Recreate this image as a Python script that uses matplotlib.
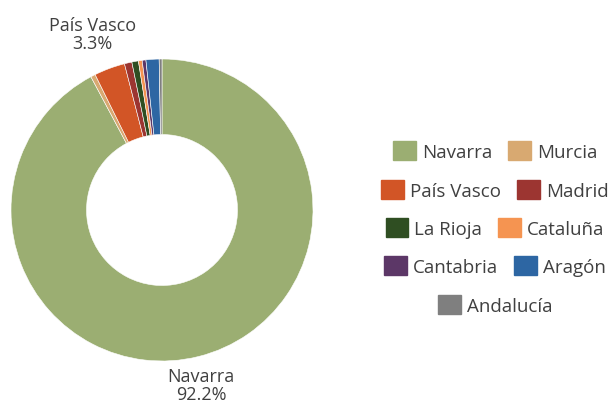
import matplotlib
matplotlib.use("Agg")
import matplotlib.pyplot as plt
from matplotlib.patches import Patch
import numpy as np

plt.rcParams['font.family'] = ['Open Sans', 'DejaVu Sans']

regions = ["Navarra", "Murcia", "País Vasco", "Madrid", "La Rioja",
           "Cataluña", "Cantabria", "Aragón", "Andalucía"]
shares = [92.2, 0.5, 3.3, 0.8, 0.7, 0.4, 0.4, 1.4, 0.3]
colors = ["#9BAE72", "#D8A971", "#D25526", "#9C3531", "#2F4E22",
          "#F59451", "#5C3767", "#2D66A3", "#7F7F7F"]
labelled = ["Navarra", "País Vasco"]
legend_rows = [["Navarra", "Murcia"], ["País Vasco", "Madrid"],
               ["La Rioja", "Cataluña"], ["Cantabria", "Aragón"],
               ["Andalucía"]]

W, H = 612, 406
fig = plt.figure(figsize=(W / 100, H / 100), dpi=100)
cx, cy, R = 162, 211, 151
ax = fig.add_axes([(cx - R) / W, (H - cy - R) / H, 2 * R / W, 2 * R / H])

wedges, _ = ax.pie(shares, colors=colors, startangle=90, counterclock=False,
                   radius=1.0, wedgeprops=dict(width=0.5, edgecolor='white',
                                               linewidth=0.4))
ax.set_xlim(-1, 1)
ax.set_ylim(-1, 1)
ax.axis('off')

txt_color = "#404040"
for w, name, v in zip(wedges, regions, shares):
    if name in labelled:
        ang = np.deg2rad((w.theta1 + w.theta2) / 2)
        r = 1.22
        ax.annotate(f"{name}\n{v:.1f}%", xy=(r * np.cos(ang), r * np.sin(ang)),
                    xytext=(-4, 2.5), textcoords='offset points',
                    ha='center', va='center', fontsize=13, color=txt_color,
                    linespacing=1.0, annotation_clip=False)

color_of = dict(zip(regions, colors))
row_y = [152, 191, 229, 267, 306]
for row, y in zip(legend_rows, row_y):
    handles = [Patch(facecolor=color_of[n], edgecolor=color_of[n]) for n in row]
    leg = fig.legend(handles, row, loc='center', bbox_to_anchor=(495 / W, 1 - y / H),
                     ncol=len(row), frameon=False, fontsize=13.5,
                     handlelength=1.22, handleheight=1.22, handletextpad=0.32,
                     columnspacing=0.85, borderpad=0, borderaxespad=0)
    for t in leg.get_texts():
        t.set_color(txt_color)

fig.savefig("out.png", dpi=100)
